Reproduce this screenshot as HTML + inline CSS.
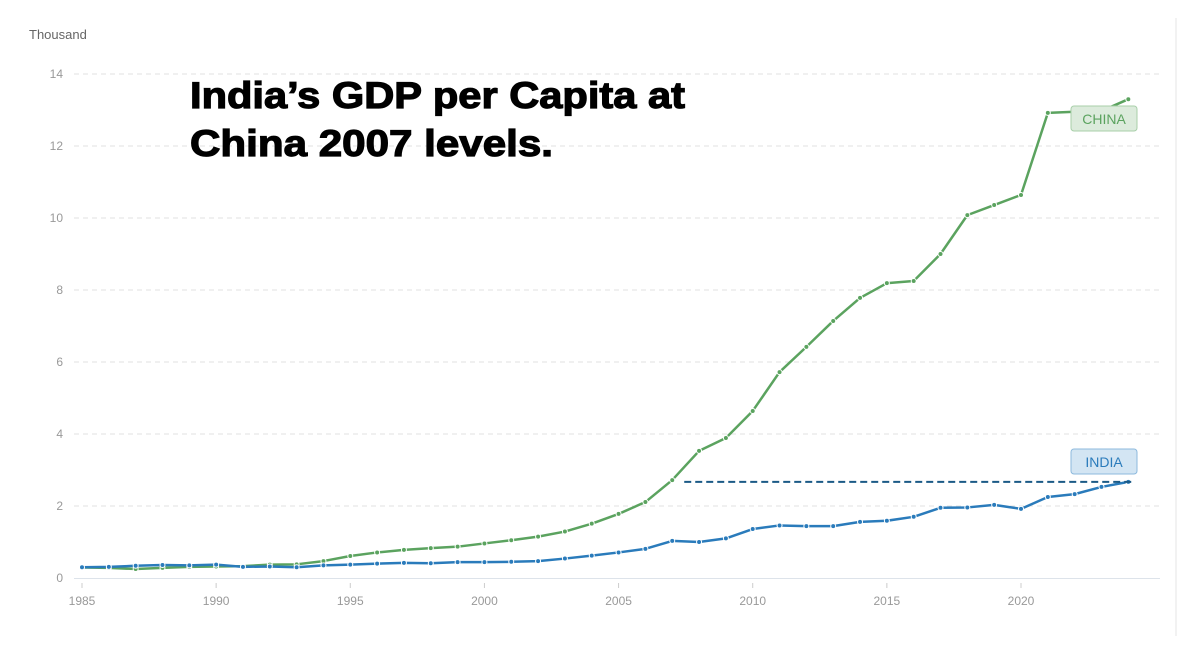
<!DOCTYPE html>
<html><head><meta charset="utf-8"><style>
body{margin:0;background:#fff;width:1180px;height:656px;overflow:hidden;font-family:"Liberation Sans",sans-serif}
svg{position:absolute;left:0;top:0}
</style></head><body>
<svg id="chart" width="1180" height="656" viewBox="0 0 1180 656">
<line x1="1176" y1="18" x2="1176" y2="636" stroke="#e6e6e6" stroke-width="1"/>
<text x="29" y="39" font-size="13" fill="#666">Thousand</text>
<g id="grid"></g><g id="series"></g>
<text font-size="37" font-weight="bold" fill="#000" stroke="#000" stroke-width="1.2" font-family="Liberation Sans,sans-serif"><tspan x="190" y="108" textLength="495" lengthAdjust="spacingAndGlyphs">India’s GDP per Capita at</tspan><tspan x="190" y="156" textLength="363" lengthAdjust="spacingAndGlyphs">China 2007 levels.</tspan></text>
</svg>
<script>
const years=[];for(let y=1985;y<=2024;y++)years.push(y);
const china=[0.29,0.28,0.25,0.28,0.31,0.32,0.33,0.37,0.38,0.47,0.61,0.71,0.78,0.83,0.87,0.96,1.05,1.15,1.29,1.51,1.78,2.11,2.72,3.53,3.89,4.64,5.72,6.42,7.14,7.78,8.19,8.25,9.0,10.08,10.36,10.64,12.92,12.95,12.97,13.3];
const india=[0.30,0.31,0.34,0.36,0.35,0.37,0.31,0.32,0.30,0.35,0.37,0.40,0.42,0.41,0.44,0.44,0.45,0.47,0.54,0.62,0.71,0.81,1.03,1.00,1.10,1.36,1.46,1.44,1.44,1.56,1.59,1.70,1.95,1.96,2.03,1.92,2.25,2.33,2.53,2.67];
const yTicks=[0,2,4,6,8,10,12,14];
const xTicks=[1985,1990,1995,2000,2005,2010,2015,2020];
const refLevel=2.67, refStart=2007;
const X=y=>82+(y-1985)*(1021-82)/35;
const Y=v=>578-v*36;
const NS="http://www.w3.org/2000/svg";
const grid=document.getElementById('grid'),ser=document.getElementById('series');
function mk(p,tag,a){const e=document.createElementNS(NS,tag);for(const k in a)e.setAttribute(k,a[k]);p.appendChild(e);return e;}
yTicks.forEach(t=>{
 if(t>0){const l=mk(grid,'line',{x1:74,x2:1160,y1:Y(t),y2:Y(t),stroke:'#e2e2e2','stroke-dasharray':'5,4'});
 
 }
 const tx=mk(grid,'text',{x:63,y:Y(t)+4,'font-size':12,fill:'#999','text-anchor':'end'});tx.textContent=t;
 
 
});
const ax=mk(grid,'line',{x1:74,x2:1160,y1:578.5,y2:578.5,stroke:'#dde3ea'});


xTicks.forEach(t=>{
 const l=mk(grid,'line',{x1:X(t),x2:X(t),y1:583,y2:588,stroke:'#ccc'});
 
 
 const tx=mk(grid,'text',{x:X(t),y:605,'font-size':12,fill:'#999','text-anchor':'middle'});tx.textContent=t;
 
 
});
function line(data,color,name){
 const g=mk(ser,'g',{});
 
 
 const p=mk(g,'polyline',{points:data.map((v,i)=>X(years[i])+','+Y(v)).join(' '),fill:'none',stroke:color,'stroke-width':2.5,'stroke-linejoin':'round'});
 
 
 data.forEach((v,i)=>{const c=mk(g,'circle',{cx:X(years[i]),cy:Y(v),r:2.5,fill:color,stroke:'#fff','stroke-width':1});
 
 });
}
line(china,'#5ba35f','china');
line(india,'#2a7bbb','india');
const rl=mk(ser,'line',{x1:X(refStart)+12,x2:X(2024)+3,y1:Y(refLevel),y2:Y(refLevel),stroke:'#1b5a86','stroke-width':2,'stroke-dasharray':'7,4'});


function label(txt,x,y,fill,stroke,color,name){
 const g=mk(ser,'g',{});
 
 
 mk(g,'rect',{x:x,y:y,width:66,height:25,rx:3,fill:fill,stroke:stroke});
 const t=mk(g,'text',{x:x+33,y:y+18,'font-size':14,fill:color,'text-anchor':'middle'});t.textContent=txt;
}
label('CHINA',1071,106,'#dcebdc','#a8cfa9','#5ba35f','china-label');
label('INDIA',1071,449,'#d3e5f3','#8cb9dd','#2a7bbb','india-label');
</script>
</body></html>
